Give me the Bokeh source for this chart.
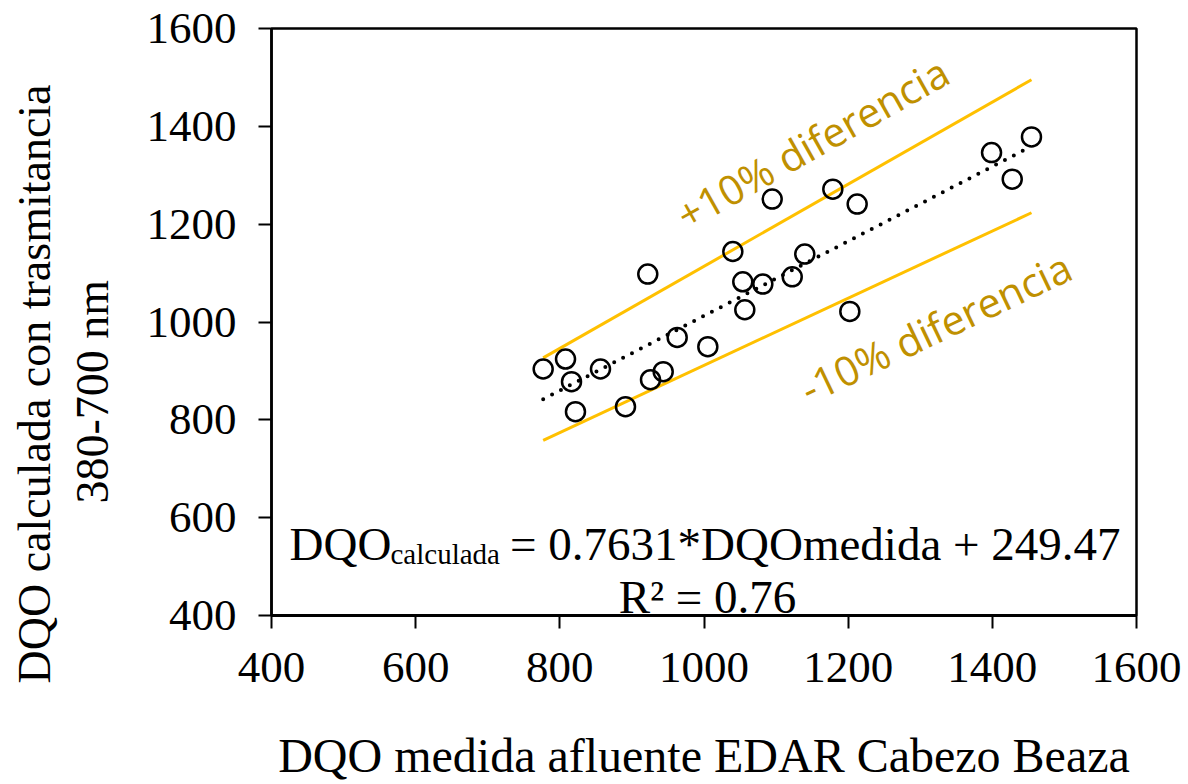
from bokeh.plotting import figure
from bokeh.models import Label, Range1d, Title
from bokeh.embed import file_html
from bokeh.resources import INLINE

# ---- data ----
dqo_medida = [776.9, 807.9, 816.2, 821.7, 856.4, 891.1, 922.0, 925.8, 943.4, 962.8,
              1005.3, 1040.0, 1053.8, 1056.6, 1081.6, 1094.6, 1122.4, 1139.8, 1178.7,
              1202.3, 1212.5, 1398.9, 1427.6, 1454.3]
dqo_calculada = [903.9, 924.3, 878.0, 816.7, 903.9, 826.9, 1098.0, 882.0, 898.4, 968.5,
                 949.5, 1144.1, 1082.2, 1025.0, 1077.5, 1251.2, 1092.4, 1138.8, 1271.6,
                 1021.6, 1241.0, 1346.4, 1292.0, 1378.4]
slope = 0.7631
intercept = 249.47
band = 0.10
x_ticks = [400, 600, 800, 1000, 1200, 1400, 1600]
y_ticks = [400, 600, 800, 1000, 1200, 1400, 1600]

# ---- layout (canvas pixels of the frame) ----
W, H = 1188, 784
L, R, T, B = 271, 1136, 28, 615
X0, X1, Y0, Y1 = 400, 1600, 400, 1600

def px2x(px):
    return X0 + (px - L) * (X1 - X0) / (R - L)

def py2y(py):
    return Y0 + (B - py) * (Y1 - Y0) / (B - T)

p = figure(width=W, height=H, output_backend="svg", toolbar_location=None,
           x_range=Range1d(X0, X1), y_range=Range1d(Y0, Y1),
           min_border_left=L, min_border_right=W - R,
           min_border_top=T, min_border_bottom=H - B)
p.grid.visible = False
p.background_fill_color = "white"
p.border_fill_color = "white"
p.outline_line_color = "black"
p.outline_line_width = 2.5

for ax, tk in ((p.xaxis[0], x_ticks), (p.yaxis[0], y_ticks)):
    ax.ticker = tk
    ax.major_label_text_font = "Liberation Serif"
    ax.major_label_text_font_size = "45px"
    ax.major_label_text_color = "black"
    ax.minor_tick_line_color = None
    ax.major_tick_in = 0
    ax.major_tick_out = 13
    ax.major_tick_line_color = "black"
    ax.major_tick_line_width = 2
    ax.axis_line_color = "black"
p.xaxis.axis_line_width = 3
p.yaxis.axis_line_width = 2.5
p.xaxis.major_label_standoff = 24
p.yaxis.major_label_standoff = 22

p.xaxis.axis_label = "DQO medida afluente EDAR Cabezo Beaza"
p.xaxis.axis_label_text_font = "Liberation Serif"
p.xaxis.axis_label_text_font_size = "48px"
p.xaxis.axis_label_text_font_style = "normal"
p.xaxis.axis_label_text_color = "black"
p.xaxis.axis_label_standoff = 44

# y-axis title, two lines (inner line first)
t2 = Title(text="380-700 nm", text_font="Liberation Serif", text_font_size="46px",
           text_font_style="normal", text_color="black", align="left",
           vertical_align="middle", offset=112, standoff=10)
t1 = Title(text="DQO calculada con trasmitancia", text_font="Liberation Serif",
           text_font_size="46px", text_font_style="normal", text_color="black",
           align="left", vertical_align="middle", offset=-68, standoff=0)
p.add_layout(t2, "left")
p.add_layout(t1, "left")
# small gap between tick labels and the axis title
p.yaxis.axis_label = "\u2009"
p.yaxis.axis_label_text_font_size = "15px"
p.yaxis.axis_label_standoff = 0

# ---- lines ----
xmin, xmax = min(dqo_medida), max(dqo_medida)
xs = [xmin, xmax]
fit = [slope * v + intercept for v in xs]
p.line(xs, [(1 + band) * f for f in fit], line_color="#FFC000", line_width=3)
p.line(xs, [(1 - band) * f for f in fit], line_color="#FFC000", line_width=3)
p.line(xs, fit, line_color="black", line_width=4, line_dash="0 10", line_cap="round")

# ---- points ----
p.scatter(dqo_medida, dqo_calculada, marker="circle", size=19, fill_color=None,
          line_color="black", line_width=2.5)

# ---- band labels ----
gold = "#BF9000"
p.add_layout(Label(x=px2x(679), y=py2y(217), text="+10% diferencia", angle=29.4,
                   angle_units="deg", text_font="Open Sans", text_font_size="41px",
                   text_color=gold, text_align="left", text_baseline="alphabetic"))
p.add_layout(Label(x=px2x(802), y=py2y(390), text="-10% diferencia", angle=25.5,
                   angle_units="deg", text_font="Open Sans", text_font_size="41px",
                   text_color=gold, text_align="left", text_baseline="alphabetic"))

# ---- equation ----
serif = "Liberation Serif"
p.add_layout(Label(x=px2x(289), y=py2y(543), text="DQO", text_font=serif,
                   text_font_size="47px", text_color="black", text_align="left",
                   text_baseline="alphabetic"))
p.add_layout(Label(x=px2x(390), y=py2y(553), text="calculada", text_font=serif,
                   text_font_size="29px", text_color="black", text_align="left",
                   text_baseline="alphabetic"))
p.add_layout(Label(x=px2x(1120), y=py2y(543), text="= 0.7631*DQOmedida + 249.47",
                   text_font=serif, text_font_size="47px", text_color="black",
                   text_align="right", text_baseline="alphabetic"))
p.add_layout(Label(x=px2x(707), y=py2y(596), text="R² = 0.76", text_font=serif,
                   text_font_size="47px", text_color="black", text_align="center",
                   text_baseline="alphabetic"))

open("out.html", "w").write(file_html(p, INLINE))
